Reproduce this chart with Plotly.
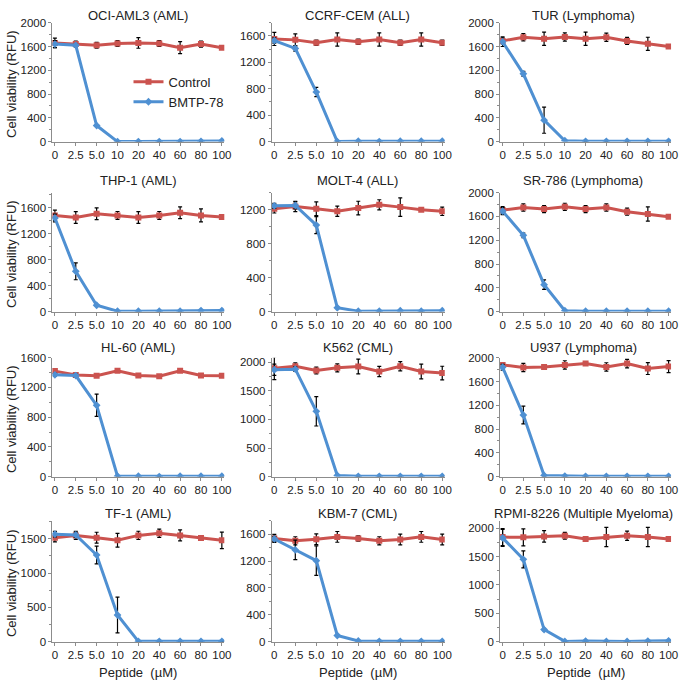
import plotly.graph_objects as go

categories = ["0", "2.5", "5.0", "10", "20", "40", "60", "80", "100"]

titles = ["OCI-AML3 (AML)", "CCRF-CEM (ALL)", "TUR (Lymphoma)",
          "THP-1 (AML)", "MOLT-4 (ALL)", "SR-786 (Lymphoma)",
          "HL-60 (AML)", "K562 (CML)", "U937 (Lymphoma)",
          "TF-1 (AML)", "KBM-7 (CML)", "RPMI-8226 (Multiple Myeloma)"]

# y-axis max and major tick step per panel
y_max = [2000, 1800, 2000, 1830, 1400, 2000, 1600, 2080, 2000, 1760, 1800, 2130]
y_step = [400, 400, 400, 400, 400, 400, 400, 500, 400, 500, 400, 500]

control_mean = [
    [1660, 1640, 1620, 1650, 1660, 1650, 1580, 1640, 1580],
    [1555, 1540, 1495, 1545, 1510, 1545, 1495, 1545, 1495],
    [1694, 1755, 1730, 1760, 1730, 1755, 1694, 1645, 1600],
    [1480, 1448, 1505, 1480, 1448, 1480, 1520, 1480, 1455],
    [1211, 1238, 1211, 1181, 1219, 1257, 1230, 1200, 1181],
    [1707, 1751, 1724, 1762, 1724, 1751, 1680, 1641, 1597],
    [1420, 1368, 1357, 1425, 1362, 1350, 1425, 1362, 1357],
    [1897, 1931, 1857, 1903, 1926, 1840, 1931, 1840, 1811],
    [1879, 1835, 1846, 1879, 1901, 1846, 1901, 1818, 1851],
    [1514, 1548, 1514, 1476, 1548, 1580, 1548, 1510, 1476],
    [1537, 1503, 1527, 1561, 1537, 1503, 1522, 1561, 1522],
    [1844, 1839, 1856, 1867, 1810, 1844, 1867, 1844, 1810],
]
control_sd = [
    [80, 50, 50, 50, 90, 50, 100, 50, 20],
    [100, 90, 40, 100, 40, 100, 40, 100, 40],
    [50, 60, 110, 70, 110, 70, 60, 110, 30],
    [80, 90, 90, 60, 90, 60, 90, 100, 20],
    [50, 60, 80, 60, 80, 60, 110, 10, 50],
    [60, 60, 60, 60, 60, 60, 60, 120, 30],
    [30, 20, 0, 10, 20, 0, 10, 20, 0],
    [200, 60, 60, 70, 130, 90, 80, 130, 120],
    [30, 70, 10, 70, 20, 70, 70, 100, 100],
    [60, 60, 80, 100, 60, 60, 80, 20, 120],
    [60, 60, 80, 80, 40, 60, 80, 80, 80],
    [150, 150, 100, 60, 40, 170, 80, 170, 40],
]
bmtp_mean = [
    [1640, 1620, 270, 0, 0, 0, 0, 5, 10],
    [1530, 1410, 750, 0, 5, 0, 5, 5, 5],
    [1680, 1140, 360, 15, 5, 5, 5, 5, 5],
    [1440, 620, 97, 5, 5, 5, 5, 15, 15],
    [1245, 1250, 1018, 45, 5, 5, 10, 5, 10],
    [1690, 1282, 453, 15, 5, 5, 5, 5, 5],
    [1370, 1360, 960, 5, 5, 0, 5, 5, 5],
    [1870, 1880, 1143, 20, 5, 5, 5, 5, 5],
    [1840, 1036, 20, 10, 5, 5, 5, 5, 5],
    [1565, 1555, 1263, 388, 5, 5, 5, 5, 5],
    [1530, 1367, 1207, 92, 10, 5, 5, 5, 5],
    [1830, 1452, 213, 5, 10, 5, 5, 10, 15],
]
bmtp_sd = [
    [60, 20, 10, 0, 0, 0, 0, 0, 0],
    [40, 40, 70, 0, 0, 0, 0, 0, 0],
    [80, 40, 220, 0, 0, 0, 0, 0, 0],
    [60, 130, 10, 0, 0, 0, 0, 0, 0],
    [30, 40, 100, 0, 0, 0, 0, 0, 0],
    [60, 40, 80, 0, 0, 0, 0, 0, 0],
    [20, 20, 150, 0, 0, 0, 0, 0, 0],
    [100, 40, 257, 0, 0, 0, 0, 0, 0],
    [50, 150, 10, 0, 0, 0, 0, 0, 0],
    [40, 40, 130, 260, 0, 0, 0, 0, 0],
    [40, 145, 220, 0, 0, 0, 0, 0, 0],
    [150, 150, 20, 0, 0, 0, 0, 0, 0],
]

W, H = 685, 686
RED = "#CB534F"
BLUE = "#4F90D2"
AXIS = "#8c8c8c"
FONT = "Liberation Sans, Arial, sans-serif"

col_px = [(52, 226), (274, 449), (505, 678)]
title_cx = [139, 361, 589]
row_px = [(17, 138), (190, 311), (358, 479), (524, 647)]
title_cy = [10, 178, 348, 517]


def fx(p):
    return p / W


def fy(p):
    return 1 - p / H


fig = go.Figure()
layout = {}
annotations = []

for i in range(12):
    r, c = divmod(i, 3)
    n = "" if i == 0 else str(i + 1)
    xa, ya = "x" + n, "y" + n

    fig.add_trace(go.Scatter(
        x=categories, y=control_mean[i], name="Control",
        mode="lines+markers", showlegend=(i == 0),
        line=dict(color=RED, width=3),
        marker=dict(symbol="square", size=6, color=RED),
        error_y=dict(type="data", array=control_sd[i], color="black",
                     thickness=1.2, width=2),
        xaxis=xa, yaxis=ya))
    fig.add_trace(go.Scatter(
        x=categories, y=bmtp_mean[i], name="BMTP-78",
        mode="lines+markers", showlegend=(i == 0),
        line=dict(color=BLUE, width=3),
        marker=dict(symbol="diamond", size=6, color=BLUE),
        error_y=dict(type="data", array=bmtp_sd[i], color="black",
                     thickness=1.2, width=2),
        xaxis=xa, yaxis=ya))

    x0, x1 = col_px[c]
    y0, y1 = row_px[r]
    layout["xaxis" + n] = dict(
        domain=[fx(x0), fx(x1)], anchor=ya, type="category",
        categoryorder="array", categoryarray=categories,
        range=[-0.12, 8.12], showline=True, linecolor=AXIS, linewidth=1,
        ticks="outside", ticklen=3, tickcolor=AXIS, showgrid=False,
        zeroline=False, tickfont=dict(size=11.5, color="#222"))
    layout["yaxis" + n] = dict(
        domain=[fy(y1), fy(y0)], anchor=xa, range=[0, y_max[i]],
        tick0=0, dtick=y_step[i], showline=True, linecolor=AXIS,
        linewidth=1, ticks="outside", ticklen=3, tickcolor=AXIS,
        minor=dict(ticks="outside", ticklen=2, tickcolor=AXIS,
                   dtick=y_step[i] / 2),
        showgrid=False, zeroline=False,
        tickfont=dict(size=11.5, color="#222"))

    annotations.append(dict(
        x=fx(title_cx[c]), y=fy(title_cy[r]), xref="paper", yref="paper",
        text=titles[i], showarrow=False, xanchor="center", yanchor="middle",
        font=dict(size=13, color="#222")))

    if c == 0:
        annotations.append(dict(
            x=fx(10), y=fy((y0 + y1) / 2 + 2), xref="paper", yref="paper",
            text="Cell viability (RFU)", textangle=-90, showarrow=False,
            xanchor="center", yanchor="middle",
            font=dict(size=13, color="#222")))
    if r == 3:
        annotations.append(dict(
            x=fx((x0 + x1) / 2), y=fy(678), xref="paper", yref="paper",
            text="Peptide\u00a0 (\u00b5M)", showarrow=False,
            xanchor="center", yanchor="middle",
            font=dict(size=13, color="#222")))

fig.update_layout(
    width=W, height=H, margin=dict(l=0, r=0, t=0, b=0),
    paper_bgcolor="white", plot_bgcolor="white",
    font=dict(family=FONT, color="#222"),
    showlegend=True,
    legend=dict(x=fx(129), y=fy(62), xanchor="left", yanchor="top",
                bgcolor="rgba(0,0,0,0)", font=dict(size=13),
                tracegroupgap=0, itemwidth=30),
    annotations=annotations,
    **layout)

# the page's default body margin would shift the figure by 8px
fig.write_html("out.html", config={"displayModeBar": False},
               post_script="document.body.style.margin = '0';")
